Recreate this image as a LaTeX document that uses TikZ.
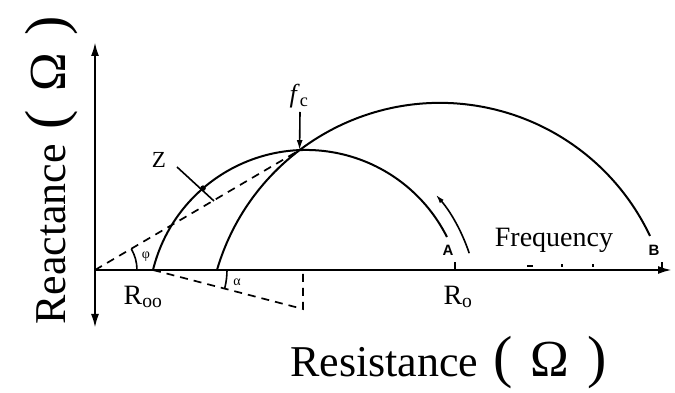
\documentclass[tikz,border=0pt]{standalone}
\usepackage{fontspec}
\setmainfont{Liberation Serif}
\newfontfamily\labsans{Liberation Sans}
\usetikzlibrary{arrows.meta,intersections,calc}
\begin{document}
\begin{tikzpicture}[x=1pt,y=1pt,
  axis/.style={line width=2.3pt},
  curve/.style={line width=2pt},
  dashline/.style={line width=1.7pt, dash pattern=on 8pt off 6pt},
  thinline/.style={line width=1.6pt},
  bigtip/.style={-{Latex[length=14pt,width=8pt]}},
  bigtips/.style={{Latex[length=14pt,width=8pt]}-{Latex[length=14pt,width=8pt]}},
  lab/.style={inner sep=0pt, font=\fontsize{28}{28}\selectfont},
  title/.style={inner sep=0pt, anchor=base west, font=\fontsize{44}{44}\selectfont},
  letter/.style={inner sep=0pt, font=\labsans\bfseries\fontsize{15}{15}\selectfont},
  greek/.style={inner sep=0pt, font=\fontsize{14}{14}\selectfont},
  tick/.style={line width=1.2pt}
  ]
\useasboundingbox (0,0) rectangle (675,393);
% axes
\coordinate (O) at (95,123);
\coordinate (Ytop) at (95,351);
\coordinate (Ybot) at (95,65);
\coordinate (Xend) at (672,123);
\draw[axis,bigtips] (Ybot) -- (Ytop);
\draw[axis,bigtip] (O) -- (Xend);
% arcs
\coordinate (C1) at (306,85.5);
\coordinate (Rinf) at (153,123);
\coordinate (Rst) at (217,123);
\draw[curve, name path=small] (Rinf) arc[start angle=166.2, end angle=26.6, radius=157.6];
\draw[curve, name path=large] (Rst) arc[start angle=163.7, end angle=25.3, radius=232.3];
\path[name intersections={of=small and large, by=P}];
% dashed lines
\draw[dashline] (O) -- (P);
\coordinate (D) at (303,84);
\coordinate (Dtop) at (303,123);
\draw[dashline] (Rinf) -- (D) -- (Dtop);
% angle marks
\draw[thinline] ([shift={(0:42)}]O) arc[start angle=0, end angle=30, radius=42];
\node[greek] (phi) at (146,136) {φ};
\draw[thinline] ([shift={(-14:74)}]Rinf) arc[start angle=-14, end angle=0, radius=74];
\node[greek] (alpha) at (237,111) {α};
% Z
\coordinate (Zp) at (203,204.8);
\fill (Zp) circle (2.8pt);
\node[inner sep=0pt, font=\fontsize{23}{23}\selectfont] (Z) at (159,233) {Z};
\coordinate (Zl1) at (177,226);
\coordinate (Zl2) at (214,192);
\draw[thinline] (Zl1) -- (Zl2);
% fc
\node[inner sep=0pt, font=\fontsize{26}{26}\selectfont] (fc) at (299,297) {\textit{f}\textsubscript{c}};
\coordinate (fctop) at (300,281);
\draw[thinline,-{Latex[length=10pt,width=6pt]}] (fctop) -- (P);
% frequency arrow
\coordinate (Fa) at ($(C1)+(18.4:172)$);
\draw[thinline,-{Latex[length=9pt,width=5pt]}] (Fa) arc[start angle=18.4, end angle=41, radius=172];
\node[lab] (freq) at (554,153) {Frequency};
% A, B labels
\node[letter] (A) at (448,143) {A};
\node[letter] (B) at (654,143) {B};
% ticks
\draw[tick] (455,122) -- (455,131);
\draw[tick] (662,122) -- (662,131);
\draw[tick] (527,127) -- (533,127);
\draw[tick] (562,126) -- (562,129);
\draw[tick] (593,126) -- (593,129);
% R labels
\node[lab] (Rinflab) at (143,96) {R\textsubscript{oo}};
\node[lab] (R0lab) at (458,96) {R\textsubscript{o}};
% axis titles
\node[title] (xlab) at (290,16) {Resistance\hspace{15pt}{\fontsize{58}{58}\selectfont(}\hspace{18pt}{\fontsize{52}{52}\selectfont Ω}\hspace{18pt}{\fontsize{58}{58}\selectfont)}};
\node[title, rotate=90] (ylab) at (65,68) {Reactance\hspace{15pt}{\fontsize{58}{58}\selectfont(}\hspace{18pt}{\fontsize{52}{52}\selectfont Ω}\hspace{18pt}{\fontsize{58}{58}\selectfont)}};
\end{tikzpicture}
\end{document}
